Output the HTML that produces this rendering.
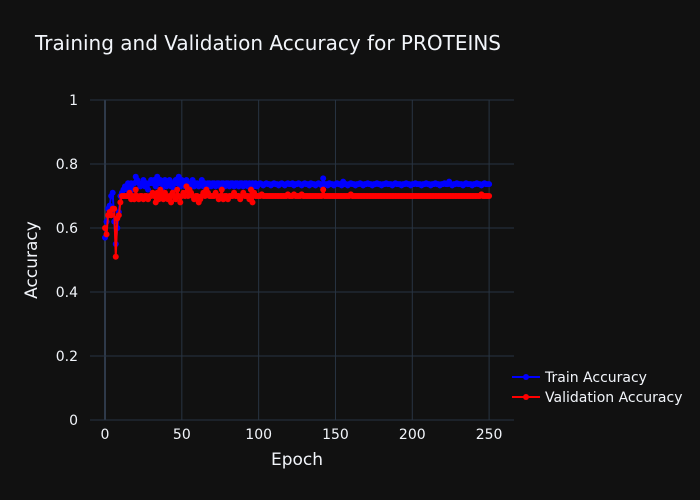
<!DOCTYPE html>
<html><head><meta charset="utf-8">
<style>
html,body{margin:0;padding:0;background:#111111;}
svg{display:block;font-family:"DejaVu Sans","Liberation Sans",sans-serif;}
</style></head>
<body>
<svg id="chart" width="700" height="500" xmlns="http://www.w3.org/2000/svg">
<rect x="0" y="0" width="700" height="500" fill="#111111"/>
<text x="35" y="50" fill="#f2f5fa" font-size="20">Training and Validation Accuracy for PROTEINS</text>
<g id="grid"></g>
<g id="plot"></g>
<g id="axes"></g>
<text x="297" y="465" fill="#f2f5fa" font-size="17" text-anchor="middle">Epoch</text>
<text x="37" y="260" fill="#f2f5fa" font-size="17" text-anchor="middle" transform="rotate(-90 37 260)">Accuracy</text>
<g>
 <g>
  <line x1="512" y1="377" x2="540" y2="377" stroke="#0000ff" stroke-width="2"/>
  <circle cx="526" cy="377" r="3" fill="#0000ff"/>
  <text x="545" y="382" fill="#f2f5fa" font-size="14">Train Accuracy</text>
 </g>
 <g>
  <line x1="512" y1="397" x2="540" y2="397" stroke="#ff0000" stroke-width="2"/>
  <circle cx="526" cy="397" r="3" fill="#ff0000"/>
  <text x="545" y="402" fill="#f2f5fa" font-size="14">Validation Accuracy</text>
 </g>
</g>
</svg>
<script>
const trainAcc = [
.57,.62,.66,.67,.70,.71,.62,.55,.60,.65,
.70,.71,.72,.73,.72,.74,.73,.74,.72,.74,
.76,.75,.74,.73,.74,.75,.73,.74,.72,.74,
.75,.74,.75,.73,.76,.74,.75,.72,.74,.75,
.73,.74,.75,.73,.74,.72,.75,.74,.76,.73,
.75,.74,.73,.75,.74,.73,.74,.75,.73,.74,
.74,.73,.74,.75,.73,.74,.73,.74,.74,.73,
.74,.74,.73,.74,.74,.73,.74,.74,.73,.74,
.74,.73,.74,.74,.73,.74,.74,.73,.74,.74,
.73,.74,.74,.73,.74,.72,.74,.73,.74,.73,
.737,.74,.737,.733,.737,.74,.737,.737,.733,.737,
.74,.737,.737,.733,.737,.74,.737,.733,.737,.74,
.737,.737,.74,.733,.737,.737,.74,.737,.733,.737,
.74,.737,.737,.733,.74,.737,.737,.733,.737,.74,
.737,.733,.755,.737,.737,.733,.74,.737,.737,.733,
.737,.74,.737,.737,.733,.745,.737,.737,.733,.737,
.74,.737,.737,.733,.737,.737,.74,.737,.733,.737,
.737,.74,.737,.737,.733,.737,.737,.74,.737,.737,
.733,.737,.737,.74,.737,.737,.737,.733,.737,.74,
.737,.737,.737,.733,.737,.737,.74,.737,.737,.733,
.737,.737,.74,.737,.737,.737,.733,.737,.737,.74,
.737,.737,.733,.737,.737,.74,.737,.737,.733,.737,
.737,.74,.737,.737,.745,.737,.733,.737,.737,.74,
.737,.737,.737,.733,.737,.74,.737,.737,.737,.733,
.737,.737,.74,.737,.737,.733,.737,.74,.737,.737,
.737];
const valAcc = [
.60,.58,.64,.65,.64,.66,.66,.51,.63,.64,
.68,.70,.70,.70,.70,.70,.71,.69,.70,.69,
.72,.70,.69,.70,.70,.69,.70,.70,.69,.70,
.70,.71,.70,.68,.71,.69,.72,.70,.69,.71,
.70,.69,.70,.68,.71,.70,.69,.72,.70,.68,
.70,.71,.70,.73,.70,.72,.71,.70,.69,.70,
.70,.68,.69,.70,.71,.70,.72,.71,.70,.70,
.70,.70,.71,.70,.69,.70,.72,.69,.70,.70,
.69,.70,.70,.70,.71,.70,.70,.70,.69,.70,
.71,.70,.70,.70,.69,.72,.68,.71,.70,.70,
.70,.70,.705,.70,.70,.70,.70,.70,.70,.70,
.70,.70,.70,.70,.70,.70,.70,.70,.70,.705,
.70,.70,.70,.705,.70,.70,.70,.70,.705,.70,
.70,.70,.70,.70,.70,.70,.70,.70,.70,.70,
.70,.70,.72,.70,.70,.70,.70,.70,.70,.70,
.70,.70,.70,.70,.70,.70,.70,.70,.70,.70,
.705,.70,.70,.70,.70,.70,.70,.70,.70,.70,
.70,.70,.70,.70,.70,.70,.70,.70,.70,.70,
.70,.70,.70,.70,.70,.70,.70,.70,.70,.70,
.70,.70,.70,.70,.70,.70,.70,.70,.70,.70,
.70,.70,.70,.70,.70,.70,.70,.70,.70,.70,
.70,.70,.70,.70,.70,.70,.70,.70,.70,.70,
.70,.70,.70,.70,.70,.70,.70,.70,.70,.70,
.70,.70,.70,.70,.70,.70,.70,.70,.70,.70,
.70,.70,.70,.70,.70,.705,.70,.70,.70,.70,
.70];
const xTicks = [0,50,100,150,200,250];
const yTicks = [0,0.2,0.4,0.6,0.8,1];
const yTickLabels = ["0","0.2","0.4","0.6","0.8","1"];

const NS = "http://www.w3.org/2000/svg";
const X0 = 90, X1 = 514, Y0 = 420, Y1 = 100;
const xMin = -9.77, xMax = 266.2;
function xs(v){ return X0 + (v - xMin) / (xMax - xMin) * (X1 - X0); }
function ys(v){ return Y0 - v * (Y0 - Y1); }
function mk(tag, attrs){ const e = document.createElementNS(NS, tag); for (const k in attrs) e.setAttribute(k, attrs[k]); return e; }

const grid = document.getElementById('grid');
const axes = document.getElementById('axes');
const plot = document.getElementById('plot');

xTicks.forEach(t => {
  const l = mk('line', {x1: xs(t), x2: xs(t), y1: Y1, y2: Y0, stroke: t === 0 ? '#2f3a4a' : '#283442', 'stroke-width': t === 0 ? 2 : 1});
  
  
  grid.appendChild(l);
  const tx = mk('text', {x: xs(t), y: 439, fill: '#f2f5fa', 'font-size': 14, 'text-anchor': 'middle'});
  tx.textContent = String(t);
  
  
  axes.appendChild(tx);
});
yTicks.forEach((t, i) => {
  const l = mk('line', {x1: X0, x2: X1, y1: ys(t), y2: ys(t), stroke: '#283442', 'stroke-width': 1});
  
  
  grid.appendChild(l);
  const tx = mk('text', {x: 78, y: ys(t) + 5, fill: '#f2f5fa', 'font-size': 14, 'text-anchor': 'end'});
  tx.textContent = yTickLabels[i];
  
  
  axes.appendChild(tx);
});

function drawSeries(vals, color, name){
  const g = mk('g', {});
  
  
  const pts = vals.map((v, i) => xs(i).toFixed(2) + ',' + ys(v).toFixed(2)).join(' ');
  const pl = mk('polyline', {points: pts, fill: 'none', stroke: color, 'stroke-width': 2});
  
  
  g.appendChild(pl);
  vals.forEach((v, i) => {
    const c = mk('circle', {cx: xs(i), cy: ys(v), r: 3, fill: color});
    
    
    g.appendChild(c);
  });
  plot.appendChild(g);
}
drawSeries(trainAcc, '#0000ff', 'train-accuracy');
drawSeries(valAcc, '#ff0000', 'validation-accuracy');
</script>
</body></html>
